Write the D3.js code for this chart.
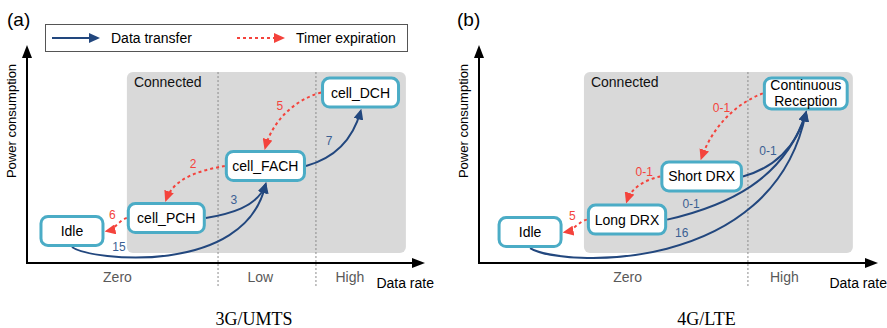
<!DOCTYPE html>
<html>
<head>
<meta charset="utf-8">
<script src="https://cdn.jsdelivr.net/npm/d3@7"></script>
<style>
  body { margin: 0; background: #fff; }
  svg { display: block; font-family: "Liberation Sans", Arial, sans-serif; }
</style>
</head>
<body>
<div id="chart"></div>
<script>
// ---- data: (a) 3G/UMTS ----
var umtsStates = ["Idle", "cell_PCH", "cell_FACH", "cell_DCH"];
var umtsRate = [11.3, 35.0, 59.9, 83.8];      // data rate (0-100 along axis)
var umtsPower = [14.7, 20.6, 44.5, 78.2];     // power consumption (0-100)
var umtsTransfer = [[0, 2, "15"], [1, 2, "3"], [2, 3, "7"]];
var umtsTimer = [[3, 2, "5"], [2, 1, "2"], [1, 0, "6"]];
var umtsZones = ["Zero", "Low", "High"];
var umtsZoneAt = [22.6, 58.5, 81];
var umtsBounds = [48, 72.6];
var umtsConnected = [25.1, 95.2, 4.6, 87.6];   // rate from, rate to, power from, power to

// ---- data: (b) 4G/LTE ----
var lteStates = ["Idle", "Long DRX", "Short DRX", "Continuous Reception"];
var lteRate = [12.8, 37.1, 55.8, 81.9];
var ltePower = [14.2, 19.9, 39.7, 77.8];
var lteTransfer = [[0, 3, "16"], [1, 3, "0-1"], [2, 3, "0-1"]];
var lteTimer = [[3, 2, "0-1"], [2, 1, "0-1"], [1, 0, "5"]];
var lteZones = ["Zero", "High"];
var lteZoneAt = [37.1, 76.4];
var lteBounds = [67.4];
var lteConnected = [26.3, 93.7, 4.6, 87.6];

var legendItems = ["Data transfer", "Timer expiration"];

// colours
var blue = "#22477e", red = "#f4433c", teal = "#4bacc6", shade = "#d9d9d9";

var svg = d3.select("#chart").append("svg")
  .attr("width", 887)
  .attr("height", 328);

var defs = svg.append("defs");
function marker(id, color, len, wid) {
  defs.append("marker")
    .attr("id", id)
    .attr("markerUnits", "userSpaceOnUse")
    .attr("markerWidth", len).attr("markerHeight", wid)
    .attr("refX", len - 3).attr("refY", wid / 2)
    .attr("orient", "auto")
    .append("path")
    .attr("d", `M0,0L${len},${wid / 2}L0,${wid}Z`)
    .attr("fill", color);
}
marker("arBlue", blue, 11, 10);
marker("arRed", red, 11, 10);
marker("arBlack", "#000", 13, 10);

// per-edge curve shapes [k1, k2, w1, w2] and label placement [t, offset]
var shapes = {
  umtsTransfer: [[0.116, 0.46, 0.5, 0.2], [0.35, 0.35, 0.35, 0.35], [0.35, 0.4, 0.35, 0.35]],
  umtsTransferLab: [[0.3, 10], [0.45, 11], [0.45, 12]],
  umtsTimer: [[0.35, 0.35, 0.35, 0.35], [0.35, 0.35, 0.35, 0.35], [0.3, 0.3, 0.35, 0.35]],
  umtsTimerLab: [[0.5, -9], [0.4, -10], [0.4, -10]],
  lteTransfer: [[0.116, 0.54, 0.5, 0.2], [0.35, 0.4, 0.35, 0.35], [0.35, 0.4, 0.35, 0.35]],
  lteTransferLab: [[0.55, 11], [0.15, 9], [0.4, 12]],
  lteTimer: [[0.35, 0.35, 0.45, 0.45], [0.35, 0.35, 0.35, 0.35], [0.3, 0.3, 0.35, 0.35]],
  lteTimerLab: [[0.45, -10], [0.3, -9], [0.4, -10]]
};

var panels = [
  { tag: "(a)", title: "3G/UMTS", left: 0, x0: 27, x1: 425,
    states: umtsStates, rate: umtsRate, power: umtsPower,
    transfer: umtsTransfer, timer: umtsTimer,
    zones: umtsZones, zoneAt: umtsZoneAt, bounds: umtsBounds, connected: umtsConnected,
    trShape: shapes.umtsTransfer, trLab: shapes.umtsTransferLab,
    tiShape: shapes.umtsTimer, tiLab: shapes.umtsTimerLab },
  { tag: "(b)", title: "4G/LTE", left: 450, x0: 479, x1: 878,
    states: lteStates, rate: lteRate, power: ltePower,
    transfer: lteTransfer, timer: lteTimer,
    zones: lteZones, zoneAt: lteZoneAt, bounds: lteBounds, connected: lteConnected,
    trShape: shapes.lteTransfer, trLab: shapes.lteTransferLab,
    tiShape: shapes.lteTimer, tiLab: shapes.lteTimerLab }
];

var yTop = 45, yBase = 263;

function unit(v) { var l = Math.hypot(v[0], v[1]); return [v[0] / l, v[1] / l]; }
var dirs = { left: [-1, 0], right: [1, 0], top: [0, -1], bottom: [0, 1] };

function anchor(b, side, gap) {
  var d = dirs[side];
  return [b.cx + d[0] * (b.w / 2 + gap), b.cy + d[1] * (b.h / 2 + gap)];
}

function bez(p, t) {
  var m = 1 - t;
  var x = m*m*m*p[0][0] + 3*m*m*t*p[1][0] + 3*m*t*t*p[2][0] + t*t*t*p[3][0];
  var y = m*m*m*p[0][1] + 3*m*m*t*p[1][1] + 3*m*t*t*p[2][1] + t*t*t*p[3][1];
  var dx = 3*m*m*(p[1][0]-p[0][0]) + 6*m*t*(p[2][0]-p[1][0]) + 3*t*t*(p[3][0]-p[2][0]);
  var dy = 3*m*m*(p[1][1]-p[0][1]) + 6*m*t*(p[2][1]-p[1][1]) + 3*t*t*(p[3][1]-p[2][1]);
  return { x: x, y: y, t: unit([dx, dy]) };
}

panels.forEach(function(P) {
  var x = d3.scaleLinear().domain([0, 100]).range([P.x0, P.x1]);
  var y = d3.scaleLinear().domain([0, 100]).range([yBase, yTop]);
  var g = svg.append("g");

  // panel tag
  g.append("text").attr("x", P.left + 7).attr("y", 26)
    .style("font-size", "19px").text(P.tag);

  // connected region
  var c = P.connected;
  g.append("rect")
    .attr("x", x(c[0])).attr("y", y(c[3]))
    .attr("width", x(c[1]) - x(c[0])).attr("height", y(c[2]) - y(c[3]))
    .attr("rx", 6).attr("fill", shade);
  g.append("text").attr("x", x(c[0]) + 7).attr("y", y(c[3]) + 15)
    .style("font-size", "14px").attr("fill", "#111").text("Connected");

  // zone boundaries
  g.selectAll(".bound").data(P.bounds).enter().append("line")
    .attr("x1", d => x(d)).attr("x2", d => x(d))
    .attr("y1", y(c[3])).attr("y2", 287)
    .attr("stroke", "#8a8a8a").attr("stroke-width", 1).attr("stroke-dasharray", "2,2");

  // zone labels via axis
  var axis = d3.axisBottom(x).tickValues(P.zoneAt)
    .tickFormat((d, i) => P.zones[i]).tickSize(0).tickPadding(9);
  var ag = g.append("g").attr("transform", `translate(0,${yBase})`).call(axis);
  ag.select(".domain").remove();
  ag.selectAll("text").style("font-size", "14px")
    .style("font-family", "'Liberation Sans', Arial, sans-serif").attr("fill", "#595959");

  // axes with arrows
  g.append("line").attr("x1", P.x0 - 1).attr("x2", P.x1 - 3)
    .attr("y1", yBase).attr("y2", yBase)
    .attr("stroke", "#000").attr("stroke-width", 2).attr("marker-end", "url(#arBlack)");
  g.append("line").attr("x1", P.x0).attr("x2", P.x0)
    .attr("y1", yBase + 1).attr("y2", yTop + 3)
    .attr("stroke", "#000").attr("stroke-width", 2).attr("marker-end", "url(#arBlack)");

  g.append("text").attr("x", P.x1 + 9).attr("y", 288)
    .attr("text-anchor", "end").style("font-size", "14px").text("Data rate");
  g.append("text")
    .attr("transform", `translate(${P.x0 - 11},121) rotate(-90)`)
    .attr("text-anchor", "middle").style("font-size", "13px").text("Power consumption");

  // title
  g.append("text").attr("x", (P.x0 + P.x1) / 2 + 28).attr("y", 325)
    .attr("text-anchor", "middle")
    .style("font-family", "'Liberation Serif', 'DejaVu Serif', serif")
    .style("font-size", "18px").text(P.title);

  // state boxes (measure text first)
  var boxes = P.states.map(function(name, i) {
    var lines = name === "Continuous Reception" ? ["Continuous", "Reception"] : [name];
    return { name: name, lines: lines, cx: x(P.rate[i]), cy: y(P.power[i]) };
  });
  var nodeG = g.selectAll(".node").data(boxes).enter().append("g");
  var rects = nodeG.append("rect");
  nodeG.each(function(b) {
    var t = d3.select(this).append("text")
      .attr("text-anchor", "middle").style("font-size", "14px").attr("fill", "#000");
    b.lines.forEach(function(l, k) {
      t.append("tspan").attr("x", b.cx)
        .attr("y", b.cy + 5 + (k - (b.lines.length - 1) / 2) * 16).text(l);
    });
    var tw = this.querySelector("text").getBBox().width;
    b.w = Math.max(tw + 12, b.name === "Idle" ? 62 : 76);
    b.h = b.lines.length > 1 ? 31 : 29;
  });
  rects
    .attr("x", b => b.cx - b.w / 2).attr("y", b => b.cy - b.h / 2)
    .attr("width", b => b.w).attr("height", b => b.h)
    .attr("rx", 7).attr("fill", "#fff").attr("stroke", teal).attr("stroke-width", 3);

  // edges
  function drawEdges(list, kind, shp, lab) {
    list.forEach(function(ed, i) {
      var from = boxes[ed[0]], to = boxes[ed[1]];
      var fs, ts;
      if (kind === "transfer") { fs = ed[0] === 0 ? "bottom" : "right"; ts = "bottom"; }
      else { fs = "left"; ts = ed[1] === 0 ? "right" : "top"; }
      var s = anchor(from, fs, 1.5), e = anchor(to, ts, 4.5);
      var L = Math.hypot(e[0] - s[0], e[1] - s[1]);
      var u = [(e[0] - s[0]) / L, (e[1] - s[1]) / L];
      var w1 = shp[i][2], w2 = shp[i][3];
      var d1 = unit([dirs[fs][0] * (1 - w1) + u[0] * w1, dirs[fs][1] * (1 - w1) + u[1] * w1]);
      var d2 = unit([dirs[ts][0] * (1 - w2) - u[0] * w2, dirs[ts][1] * (1 - w2) - u[1] * w2]);
      var pts = [s,
        [s[0] + d1[0] * shp[i][0] * L, s[1] + d1[1] * shp[i][0] * L],
        [e[0] + d2[0] * shp[i][1] * L, e[1] + d2[1] * shp[i][1] * L],
        e];
      var p = d3.path();
      p.moveTo(s[0], s[1]);
      p.bezierCurveTo(pts[1][0], pts[1][1], pts[2][0], pts[2][1], e[0], e[1]);
      var color = kind === "transfer" ? blue : red;
      g.append("path").attr("d", p.toString())
        .attr("fill", "none").attr("stroke", color).attr("stroke-width", 2)
        .attr("stroke-dasharray", kind === "transfer" ? null : "3,3")
        .attr("marker-end", kind === "transfer" ? "url(#arBlue)" : "url(#arRed)");
      var q = bez(pts, lab[i][0]);
      var n = [q.t[1], -q.t[0]];
      g.append("text")
        .attr("x", q.x + n[0] * lab[i][1]).attr("y", q.y + n[1] * lab[i][1] + 4)
        .attr("text-anchor", "middle").style("font-size", "12px")
        .attr("fill", kind === "transfer" ? "#3b5f93" : red).text(ed[2]);
    });
  }
  drawEdges(P.transfer, "transfer", P.trShape, P.trLab);
  drawEdges(P.timer, "timer", P.tiShape, P.tiLab);
  nodeG.raise();
});

// legend
var lg = svg.append("g");
lg.append("rect").attr("x", 45.5).attr("y", 24.5).attr("width", 362).attr("height", 27)
  .attr("fill", "#fff").attr("stroke", "#555").attr("stroke-width", 1);
var legX = d3.scalePoint().domain(legendItems).range([52, 237]);
legendItems.forEach(function(name, i) {
  var lx = legX(name);
  lg.append("line").attr("x1", lx).attr("x2", lx + 45).attr("y1", 38).attr("y2", 38)
    .attr("stroke", i === 0 ? blue : red).attr("stroke-width", 2)
    .attr("stroke-dasharray", i === 0 ? null : "3,3")
    .attr("marker-end", i === 0 ? "url(#arBlue)" : "url(#arRed)");
  lg.append("text").attr("x", lx + 59).attr("y", 43)
    .style("font-size", "14px").text(name);
});
</script>
</body>
</html>
